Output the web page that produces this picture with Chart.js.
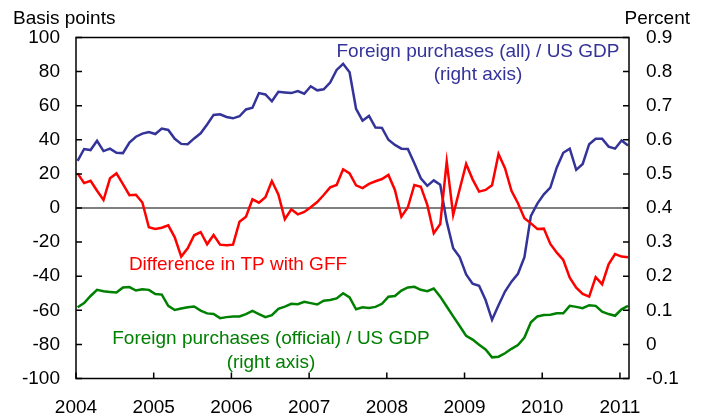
<!DOCTYPE html>
<html>
<head>
<meta charset="utf-8">
<script src="https://cdn.jsdelivr.net/npm/chart.js@4.4.1/dist/chart.umd.min.js"></script>
<style>
  html, body { margin: 0; padding: 0; background: #fff; }
  canvas { display: block; }
</style>
</head>
<body>
<canvas id="chart" width="712" height="415"></canvas>
<script>
// Monthly observations, Jan 2004 - Feb 2011
const years = ["2004", "2005", "2006", "2007", "2008", "2009", "2010", "2011"];
const bpTicks = [-100, -80, -60, -40, -20, 0, 20, 40, 60, 80, 100];
const pctTicks = [-0.1, 0, 0.1, 0.2, 0.3, 0.4, 0.5, 0.6, 0.7, 0.8, 0.9];

// Foreign purchases (all) / US GDP, percent (right axis)
const allPurchases = [
  0.538, 0.573, 0.570, 0.597, 0.567, 0.574, 0.562, 0.561, 0.592, 0.609, 0.618, 0.623,
  0.617, 0.633, 0.629, 0.603, 0.588, 0.587, 0.604, 0.619, 0.645, 0.673, 0.675, 0.667,
  0.663, 0.669, 0.689, 0.694, 0.737, 0.733, 0.713, 0.741, 0.739, 0.737, 0.743, 0.735,
  0.757, 0.745, 0.748, 0.768, 0.805, 0.823, 0.798, 0.691, 0.656, 0.670, 0.636, 0.635,
  0.600, 0.585, 0.574, 0.573, 0.531, 0.487, 0.465, 0.481, 0.468, 0.360, 0.282, 0.256,
  0.205, 0.178, 0.172, 0.130, 0.072, 0.115, 0.155, 0.184, 0.207, 0.256, 0.377, 0.413,
  0.440, 0.460, 0.519, 0.562, 0.574, 0.512, 0.529, 0.587, 0.603, 0.603, 0.580, 0.574,
  0.598, 0.583
];

// Foreign purchases (official) / US GDP, percent (right axis)
const officialPurchases = [
  0.109, 0.121, 0.142, 0.160, 0.156, 0.154, 0.152, 0.167, 0.168, 0.158, 0.162, 0.160,
  0.148, 0.146, 0.113, 0.101, 0.105, 0.109, 0.111, 0.099, 0.091, 0.089, 0.077, 0.080,
  0.082, 0.082, 0.089, 0.098, 0.089, 0.080, 0.086, 0.104, 0.111, 0.119, 0.118, 0.125,
  0.121, 0.117, 0.128, 0.130, 0.135, 0.150, 0.138, 0.103, 0.109, 0.107, 0.110, 0.119,
  0.140, 0.142, 0.158, 0.167, 0.169, 0.160, 0.156, 0.164, 0.140, 0.111, 0.082, 0.054,
  0.025, 0.014, -0.001, -0.015, -0.038, -0.036, -0.026, -0.013, -0.002, 0.020, 0.065, 0.082,
  0.086, 0.087, 0.091, 0.091, 0.113, 0.110, 0.106, 0.115, 0.113, 0.096, 0.089, 0.084,
  0.103, 0.113
];

// Difference in term premium with GFF, basis points (left axis)
const tpDifference = [
  20.3, 14.6, 16, 10.1, 4.7, 17.4, 20.3, 14, 7.5, 7.8, 3.2, -11.3,
  -12.3, -11.6, -10.2, -17.2, -28.5, -23.6, -16, -14.1, -21.3, -15.8, -21.5, -21.9,
  -21.5, -8, -5.1, 5.1, 3.1, 6.3, 15.8, 8, -6.6, -0.8, -3.7, -2.3,
  0.4, 3.5, 7.6, 12.1, 13.5, 22.7, 20.3, 13.3, 11.7, 14.1, 15.7, 17,
  19.4, 10.6, -5.1, 0.4, 13.5, 12.5, 1.8, -14.8, -9.4, 27.2, -4.1, 11,
  25.8, 16.8, 9.6, 10.6, 13.3, 31.7, 23.3, 10.1, 2.8, -6, -9, -12.3,
  -12.1, -21.1, -26.2, -30.5, -40.9, -46.7, -50.4, -52, -40.6, -44.7, -33, -27,
  -28.5, -28.9
];

const BLUE = "#333399";
const RED = "#ff0000";
const GREEN = "#008000";
const FONT = '"Liberation Sans", Arial, sans-serif';

// x is months since Jan 2004, each observation sits a little into its month
const toPoints = arr => arr.map((v, i) => ({ x: i + 0.25, y: v }));

function series(data, color, axis) {
  return {
    data: toPoints(data),
    yAxisID: axis,
    borderColor: color,
    borderWidth: 2.5,
    pointRadius: 0,
    tension: 0,
    fill: false
  };
}

// frame, inward tick marks, zero line and the text labels
const decorations = {
  id: "decorations",
  beforeDatasetsDraw(chart) {
    const { ctx, chartArea: a, scales } = chart;
    const y0 = scales.bp.getPixelForValue(0);
    ctx.save();
    ctx.strokeStyle = "#7f7f7f";
    ctx.lineWidth = 2;
    ctx.beginPath();
    ctx.moveTo(a.left, y0);
    ctx.lineTo(a.right, y0);
    ctx.stroke();
    ctx.restore();
  },
  afterDraw(chart) {
    const { ctx, chartArea: a, scales } = chart;
    ctx.save();
    ctx.strokeStyle = "#000";
    ctx.lineWidth = 1.5;
    ctx.strokeRect(a.left, a.top, a.right - a.left, a.bottom - a.top);

    ctx.beginPath();
    scales.bp.ticks.forEach(t => {
      const y = scales.bp.getPixelForValue(t.value);
      ctx.moveTo(a.left, y);
      ctx.lineTo(a.left + 6, y);
    });
    scales.pct.ticks.forEach(t => {
      const y = scales.pct.getPixelForValue(t.value);
      ctx.moveTo(a.right, y);
      ctx.lineTo(a.right - 6, y);
    });
    scales.x.ticks.forEach(t => {
      const x = scales.x.getPixelForValue(t.value);
      ctx.moveTo(x, a.bottom);
      ctx.lineTo(x, a.bottom - 6);
    });
    ctx.stroke();

    ctx.font = "19px " + FONT;
    ctx.textBaseline = "alphabetic";
    ctx.fillStyle = "#000";
    ctx.textAlign = "left";
    ctx.fillText("Basis points", 13, 24);
    ctx.textAlign = "right";
    ctx.fillText("Percent", 690, 24);

    ctx.textAlign = "center";
    ctx.fillStyle = BLUE;
    ctx.fillText("Foreign purchases (all) / US GDP", 478, 57);
    ctx.fillText("(right axis)", 478, 80);
    ctx.fillStyle = RED;
    ctx.fillText("Difference in TP with GFF", 238, 270);
    ctx.fillStyle = GREEN;
    ctx.fillText("Foreign purchases (official) / US GDP", 271, 344);
    ctx.fillText("(right axis)", 271, 368);
    ctx.restore();
  }
};

Chart.defaults.font.family = FONT;
Chart.defaults.font.size = 19;
Chart.defaults.color = "#000";

new Chart(document.getElementById("chart"), {
  type: "line",
  data: {
    datasets: [
      series(tpDifference, RED, "bp"),
      series(officialPurchases, GREEN, "pct"),
      series(allPurchases, BLUE, "pct")
    ]
  },
  options: {
    responsive: false,
    animation: false,
    devicePixelRatio: 1,
    layout: { padding: { top: 37.5, left: 0, right: 0, bottom: 0 } },
    plugins: { legend: { display: false }, tooltip: { enabled: false } },
    scales: {
      x: {
        type: "linear",
        min: 0,
        max: 85.4,
        grid: { display: false, drawTicks: false },
        border: { display: false },
        afterBuildTicks: s => { s.ticks = years.map((y, i) => ({ value: i * 12 })); },
        afterFit: s => { s.height = 36.5; },
        ticks: {
          padding: 18,
          maxRotation: 0,
          callback: (v, i) => years[i]
        }
      },
      bp: {
        position: "left",
        min: -100,
        max: 100,
        grid: { display: false, drawTicks: false },
        border: { display: false },
        afterBuildTicks: s => { s.ticks = bpTicks.map(v => ({ value: v })); },
        afterFit: s => { s.width = 76; },
        ticks: { padding: 16, callback: v => String(v) }
      },
      pct: {
        position: "right",
        min: -0.1,
        max: 0.9,
        grid: { display: false, drawTicks: false },
        border: { display: false },
        afterBuildTicks: s => { s.ticks = pctTicks.map(v => ({ value: v })); },
        afterFit: s => { s.width = 83; },
        ticks: { padding: 17, callback: v => String(Number(v.toFixed(1))) }
      }
    }
  },
  plugins: [decorations]
});
</script>
</body>
</html>
